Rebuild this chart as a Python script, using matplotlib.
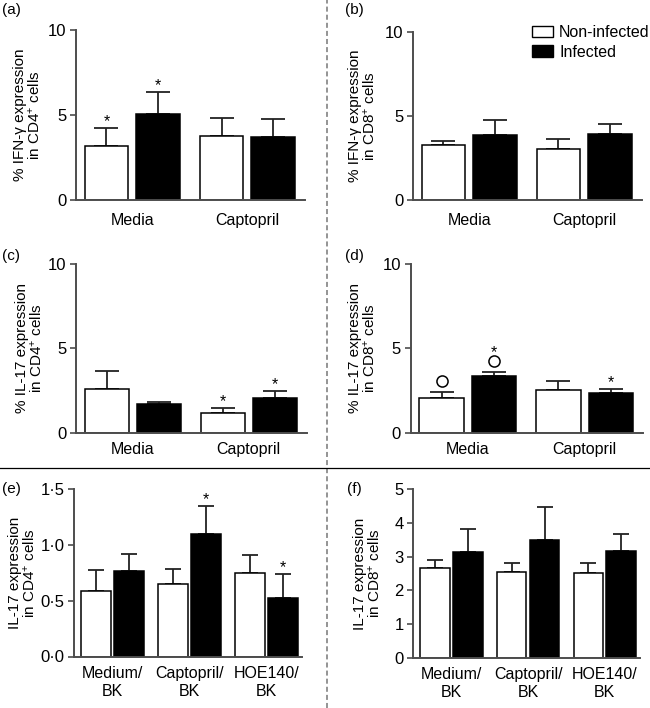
import matplotlib

matplotlib.use("Agg")

import matplotlib.pyplot as plt
import numpy as np
from matplotlib.lines import Line2D
from matplotlib.patches import Patch
from matplotlib.transforms import ScaledTranslation

# ---- data ----
GROUPS_TOP = ["Media", "Captopril"]
GROUPS_BK = ["Medium/\nBK", "Captopril/\nBK", "HOE140/\nBK"]

a_non = [3.19, 3.74]
a_non_err = [1.06, 1.10]
a_inf = [5.08, 3.70]
a_inf_err = [1.25, 1.06]

b_non = [3.28, 3.01]
b_non_err = [0.25, 0.64]
b_inf = [3.89, 3.91]
b_inf_err = [0.88, 0.60]

c_non = [2.57, 1.19]
c_non_err = [1.11, 0.29]
c_inf = [1.68, 2.04]
c_inf_err = [0.16, 0.41]

d_non = [2.07, 2.53]
d_non_err = [0.36, 0.52]
d_inf = [3.36, 2.33]
d_inf_err = [0.26, 0.24]

e_non = [0.586, 0.646, 0.747]
e_non_err = [0.188, 0.134, 0.162]
e_inf = [0.768, 1.097, 0.523]
e_inf_err = [0.150, 0.251, 0.215]

f_non = [2.67, 2.54, 2.51]
f_non_err = [0.24, 0.28, 0.29]
f_inf = [3.13, 3.50, 3.17]
f_inf_err = [0.69, 0.97, 0.50]

TICKS_PCT = [0, 5, 10]
TICKS_E = [0, 0.5, 1.0, 1.5]
TICKLABELS_E = ["0·0", "0·5", "1·0", "1·5"]
TICKS_F = [0, 1, 2, 3, 4, 5]

# significance marks: (group index, series, mark, offset above error cap in pt)
d_marks = [(0, "non", "o", 7.5), (0, "inf", "o", 7.5), (0, "inf", "*", 10.5), (1, "inf", "*", 1.5)]
a_marks = [(0, "non", "*", 1.5), (0, "inf", "*", 1.5)]
c_marks = [(1, "non", "*", 1.5), (1, "inf", "*", 1.5)]
e_marks = [(1, "inf", "*", 1.5), (2, "inf", "*", 1.5)]

# ---- style ----
W, H = 650, 708
INK = "#000000"
AXIS = "#4d4d4d"
FONT = ["Liberation Sans", "DejaVu Sans"]

plt.rcParams["font.family"] = FONT
plt.rcParams["font.size"] = 11
plt.rcParams["mathtext.fontset"] = "custom"
plt.rcParams["mathtext.rm"] = "Liberation Sans"
plt.rcParams["mathtext.it"] = "Liberation Sans:italic"

fig = plt.figure(figsize=(W / 100, H / 100), dpi=100)


def px_axes(left, top, right, bottom):
    return fig.add_axes([left / W, 1 - bottom / H, (right - left) / W, (bottom - top) / H])


def panel(ax, groups, non, non_err, inf, inf_err, ticks, ylabel, label_px, xlim,
          width, offset, capsize, xpad, ticklabels=None, marks=()):
    x = np.arange(len(groups))
    xs = {"non": x - offset, "inf": x + offset}
    vals = {"non": non, "inf": inf}
    errs = {"non": non_err, "inf": inf_err}
    for key, face in (("non", "white"), ("inf", "black")):
        ax.errorbar(xs[key], vals[key], yerr=[np.zeros(len(groups)), errs[key]], fmt="none",
                    ecolor="#222222", elinewidth=1.3, capsize=capsize, capthick=1.3, zorder=1)
        ax.bar(xs[key], vals[key], width=width, color=face, edgecolor=INK, linewidth=1.1, zorder=2)

    for gi, key, mark, off in marks:
        top = vals[key][gi] + errs[key][gi]
        if mark == "*":
            ax.annotate("*", (xs[key][gi], top), xytext=(0, off), textcoords="offset points",
                        ha="center", va="baseline", fontsize=11.5, zorder=3)
        else:
            shift = ax.transData + ScaledTranslation(0, off / 72, fig.dpi_scale_trans)
            ax.plot([xs[key][gi]], [top], marker="o", ms=8, mfc="white", mec=INK, mew=1.1,
                    transform=shift, clip_on=False, zorder=3)

    ax.set_xlim(*xlim)
    ax.set_ylim(ticks[0], ticks[-1])
    ax.set_yticks(ticks)
    if ticklabels is not None:
        ax.set_yticklabels(ticklabels)
    ax.set_xticks(x, groups)
    ax.tick_params(axis="x", length=0, pad=xpad, labelsize=11.5)
    ax.tick_params(axis="y", length=4, width=1.2, color=AXIS, pad=3, labelsize=12)
    for name, spine in ax.spines.items():
        spine.set_visible(name in ("left", "bottom"))
        spine.set_color(AXIS)
        spine.set_linewidth(1.4)

    ax.set_ylabel(ylabel, fontsize=11, linespacing=1.0)
    bbox = ax.get_position()
    ax.yaxis.set_label_coords((label_px / W - bbox.x0) / bbox.width, 0.5)


TWO = dict(xlim=(-0.49, 1.50), width=0.38, offset=0.225, capsize=8.5)
THREE = dict(xlim=(-0.50, 2.46), width=0.385, offset=0.215, capsize=5.5)

ax_a = px_axes(76, 30, 305, 200)
panel(ax_a, GROUPS_TOP, a_non, a_non_err, a_inf, a_inf_err, TICKS_PCT,
      "% IFN-γ expression\nin CD4$^{+}$ cells", 43, xpad=9, marks=a_marks, **TWO)

ax_b = px_axes(413, 31.7, 641.7, 200)
panel(ax_b, GROUPS_TOP, b_non, b_non_err, b_inf, b_inf_err, TICKS_PCT,
      "% IFN-γ expression\nin CD8$^{+}$ cells", 378, xpad=9, **TWO)

ax_c = px_axes(76, 264, 306.7, 432.7)
panel(ax_c, GROUPS_TOP, c_non, c_non_err, c_inf, c_inf_err, TICKS_PCT,
      "% IL-17 expression\nin CD4$^{+}$ cells", 45, xpad=6.5, marks=c_marks, **TWO)

ax_d = px_axes(410.7, 264, 643, 432.7)
panel(ax_d, GROUPS_TOP, d_non, d_non_err, d_inf, d_inf_err, TICKS_PCT,
      "% IL-17 expression\nin CD8$^{+}$ cells", 378, xpad=6.5, marks=d_marks, **TWO)

ax_e = px_axes(74, 489, 302, 656.5)
panel(ax_e, GROUPS_BK, e_non, e_non_err, e_inf, e_inf_err, TICKS_E,
      "IL-17 expression\nin CD4$^{+}$ cells", 38, xpad=7, ticklabels=TICKLABELS_E,
      marks=e_marks, **THREE)

ax_f = px_axes(413.3, 489.3, 640, 657.5)
panel(ax_f, GROUPS_BK, f_non, f_non_err, f_inf, f_inf_err, TICKS_F,
      "IL-17 expression\nin CD8$^{+}$ cells", 383, xpad=7, **THREE)

# panel letters
for letter, xp, yp in (("(a)", 2, 10), ("(b)", 345, 10), ("(c)", 2, 256),
                       ("(d)", 345, 256), ("(e)", 2, 489), ("(f)", 347, 489)):
    fig.text(xp / W, 1 - yp / H, letter, ha="left", va="center", fontsize=11)

# legend in panel (b)
handles = [Patch(facecolor="white", edgecolor=INK, linewidth=1.0, label="Non-infected"),
           Patch(facecolor="black", edgecolor=INK, linewidth=1.0, label="Infected")]
fig.legend(handles=handles, loc="upper left", bbox_to_anchor=(532 / W, 1 - 25 / H),
           frameon=False, borderpad=0, borderaxespad=0, handlelength=1.3, handleheight=0.75,
           handletextpad=0.4, labelspacing=0.3, fontsize=11.5)

# separators
fig.add_artist(Line2D([327 / W, 327 / W], [0, 1], transform=fig.transFigure, color="#777777",
                      linewidth=1.1, linestyle=(0, (3.3, 2))))
fig.add_artist(Line2D([0, 1], [1 - 468 / H, 1 - 468 / H], transform=fig.transFigure,
                      color=INK, linewidth=0.9))

fig.savefig("out.png", dpi=100, facecolor="white")
